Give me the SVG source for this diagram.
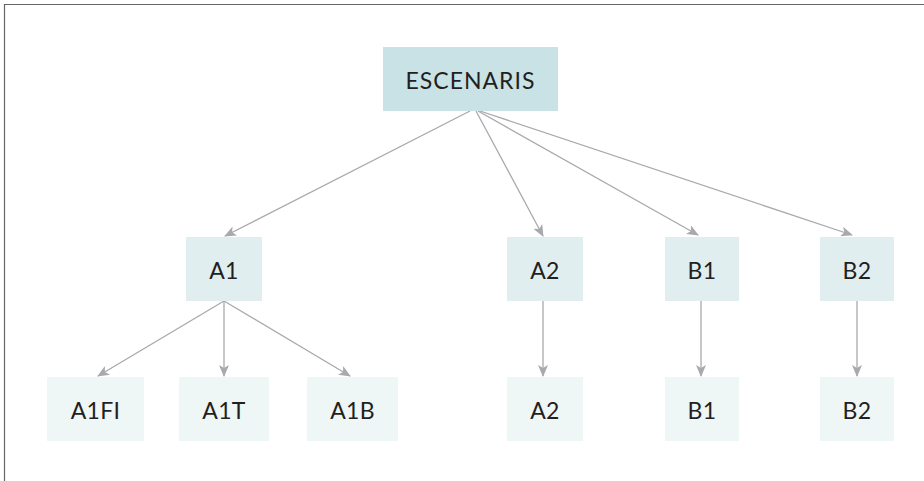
<svg xmlns="http://www.w3.org/2000/svg" width="924" height="481" viewBox="0 0 924 481">
<style>
.t{font-family:Lato,"Noto Sans","Liberation Sans",sans-serif;font-size:23px;letter-spacing:0.3px;fill:#231f20;text-anchor:middle;dominant-baseline:central}
.l1{fill:#e0eef0}
.l2{fill:#eef6f6}
.c{stroke:#a7a9ac;stroke-width:1.3;fill:none;marker-end:url(#ah)}
</style>
<defs>
<marker id="ah" viewBox="0 0 12 10" refX="11" refY="5" markerWidth="12" markerHeight="10" markerUnits="userSpaceOnUse" orient="auto">
<path d="M0,0 L12,5 L0,10 L3,5 Z" fill="#a7a9ac"/>
</marker>
</defs>
<rect width="924" height="481" fill="#fff"/>
<path d="M4.5,481 V4.5 H924" stroke="#666" stroke-width="1.2" fill="none"/>
<g id="connectors">
<line class="c" x1="470" y1="111" x2="225" y2="236"/>
<line class="c" x1="476" y1="111" x2="543" y2="236"/>
<line class="c" x1="478" y1="111" x2="698" y2="235"/>
<line class="c" x1="480" y1="111" x2="852" y2="235"/>
<line class="c" x1="224" y1="301" x2="98" y2="376"/>
<line class="c" x1="224" y1="301" x2="224" y2="376"/>
<line class="c" x1="224" y1="301" x2="350" y2="376"/>
<line class="c" x1="543" y1="301" x2="543" y2="376"/>
<line class="c" x1="701" y1="301" x2="701" y2="376"/>
<line class="c" x1="857" y1="301" x2="857" y2="376"/>
</g>
<g id="escenaris"><rect x="383" y="47" width="175" height="64" fill="#c8e2e6"/><text class="t" x="470.5" y="80" style="letter-spacing:1px">ESCENARIS</text></g>
<g id="a1"><rect class="l1" x="186" y="237" width="76" height="64"/><text class="t" x="224" y="270">A1</text></g>
<g id="a2"><rect class="l1" x="507" y="237" width="76" height="64"/><text class="t" x="545" y="270">A2</text></g>
<g id="b1"><rect class="l1" x="665" y="237" width="74" height="64"/><text class="t" x="702" y="270">B1</text></g>
<g id="b2"><rect class="l1" x="820" y="237" width="74" height="64"/><text class="t" x="857" y="270">B2</text></g>
<g id="a1fi"><rect class="l2" x="47" y="377" width="97" height="64"/><text class="t" x="95.5" y="410">A1FI</text></g>
<g id="a1t"><rect class="l2" x="179" y="377" width="90" height="64"/><text class="t" x="224" y="410">A1T</text></g>
<g id="a1b"><rect class="l2" x="307" y="377" width="91" height="64"/><text class="t" x="352.5" y="410">A1B</text></g>
<g id="a2b"><rect class="l2" x="507" y="377" width="76" height="64"/><text class="t" x="545" y="410">A2</text></g>
<g id="b1b"><rect class="l2" x="665" y="377" width="74" height="64"/><text class="t" x="702" y="410">B1</text></g>
<g id="b2b"><rect class="l2" x="820" y="377" width="74" height="64"/><text class="t" x="857" y="410">B2</text></g>
</svg>
